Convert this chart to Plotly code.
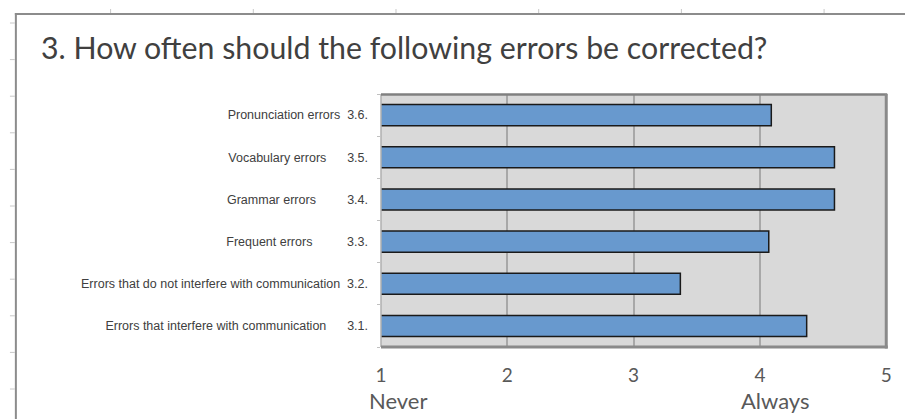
import plotly.graph_objects as go

W, H = 911, 419

# ---- data ----
names = ["Errors that interfere with communication",
         "Errors that do not interfere with communication",
         "Frequent errors",
         "Grammar errors",
         "Vocabulary errors",
         "Pronunciation errors"]
codes = ["3.1.", "3.2.", "3.3.", "3.4.", "3.5.", "3.6."]
values = [4.37, 3.37, 4.07, 4.59, 4.59, 4.09]
x_ticks = [1, 2, 3, 4, 5]
scale_words = ["Never", "Always"]
scale_word_at = [1, 4]
title = "3. How often should the following errors be corrected?"

# ---- styling helpers ----
pads = [6, 2, 10, 9, 6, 2]  # non-breaking space padding between name and code
NB = "\u00a0"
ticktext = [n + NB * p + c for n, p, c in zip(names, pads, codes)]

def px(x):
    return x / W

def py(y):
    return 1 - y / H

PL, PR, PT, PB = 380, 892, 94, 347

fig = go.Figure()
fig.add_trace(go.Bar(
    x=values, y=codes, orientation="h", base=0, width=0.5,
    marker=dict(color="#6899ce", line=dict(color="#1a1a1a", width=1.5)),
    hoverinfo="skip",
))

shapes = []
# spreadsheet frame
gc = "#8c8c8c"
shapes.append(dict(type="line", xref="paper", yref="paper", x0=px(9), x1=px(W), y0=py(14), y1=py(14),
                   line=dict(color=gc, width=2)))
shapes.append(dict(type="line", xref="paper", yref="paper", x0=px(10), x1=px(10), y0=py(13), y1=py(H),
                   line=dict(color=gc, width=2)))
for i in range(6):
    xx = 106 + 144.6 * i
    shapes.append(dict(type="line", xref="paper", yref="paper", x0=px(xx), x1=px(xx), y0=py(9), y1=py(13),
                       line=dict(color="#c8c8c8", width=1)))
for i in range(11):
    yy = 23 + 36.6 * i
    shapes.append(dict(type="line", xref="paper", yref="paper", x0=px(4), x1=px(9), y0=py(yy), y1=py(yy),
                       line=dict(color="#c8c8c8", width=1)))
# plot area border
shapes.append(dict(type="line", xref="paper", yref="paper", x0=px(PL), x1=px(PL), y0=py(PT), y1=py(PB),
                   line=dict(color="#b0b0b0", width=1.5)))
shapes.append(dict(type="line", xref="paper", yref="paper", x0=px(PL), x1=px(PR + 1), y0=py(PT + 0.5), y1=py(PT + 0.5),
                   line=dict(color="#808080", width=2.5)))
shapes.append(dict(type="line", xref="paper", yref="paper", x0=px(PR), x1=px(PR), y0=py(PT), y1=py(PB + 1.5),
                   line=dict(color="#8a8a8a", width=3)))
shapes.append(dict(type="line", xref="paper", yref="paper", x0=px(PL), x1=px(PR + 1.5), y0=py(PB), y1=py(PB),
                   line=dict(color="#8a8a8a", width=3)))

annotations = [dict(text=title, xref="paper", yref="paper", x=px(33), y=py(47), xanchor="left",
                    yanchor="middle", showarrow=False,
                    font=dict(family="Lato", size=30.3, color="#404040"))]
for w, at in zip(scale_words, scale_word_at):
    annotations.append(dict(text=w, xref="x", yref="paper", x=at, y=py(400), xanchor="left",
                            xshift=-14 if at == 1 else -21, yanchor="middle", showarrow=False,
                            font=dict(family="Lato", size=22, color="#595959")))

fig.update_layout(
    width=W, height=H,
    margin=dict(l=0, r=0, t=0, b=0),
    paper_bgcolor="white", plot_bgcolor="#d9d9d9",
    showlegend=False,
    bargap=0.5,
    shapes=shapes,
    annotations=annotations,
    xaxis=dict(domain=[px(PL), px(PR)], range=[1, 5], tickvals=x_ticks, ticktext=[str(t) for t in x_ticks],
               showgrid=True, gridcolor="#a8a8a8", gridwidth=2, zeroline=False, showline=False,
               ticks="outside", ticklen=11, tickcolor="rgba(0,0,0,0)",
               tickfont=dict(family="Lato", size=19, color="#595959")),
    yaxis=dict(domain=[py(PB), py(PT)], type="category", categoryorder="array", categoryarray=codes,
               tickvals=codes, ticktext=ticktext, showgrid=False, zeroline=False, showline=False,
               ticks="outside", tickson="boundaries", ticklen=3, tickcolor="#c0c0c0",
               ticklabelstandoff=12,
               tickfont=dict(family="Liberation Sans", size=12.5, color="#404040")),
)

fig.write_html("out.html", config={"displayModeBar": False},
               post_script="document.body.style.margin='0';")
